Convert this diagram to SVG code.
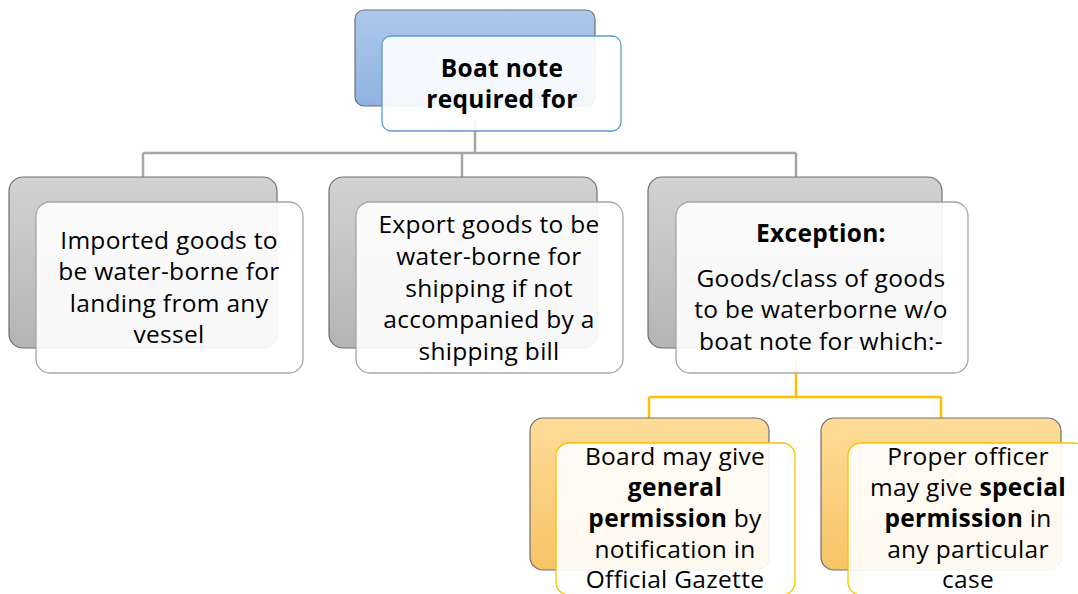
<svg xmlns="http://www.w3.org/2000/svg" width="1078" height="594" viewBox="0 0 1078 594">
<defs>
<linearGradient id="gBlue" x1="0" y1="0" x2="0" y2="1"><stop offset="0" stop-color="#adc8ea"/><stop offset="1" stop-color="#8fb3e0"/></linearGradient>
<linearGradient id="gGray" x1="0" y1="0" x2="0" y2="1"><stop offset="0" stop-color="#d2d2d2"/><stop offset="1" stop-color="#b4b4b4"/></linearGradient>
<linearGradient id="gOr" x1="0" y1="0" x2="0" y2="1"><stop offset="0" stop-color="#fedc98"/><stop offset="1" stop-color="#f7c366"/></linearGradient>
</defs>
<style>
.back{stroke:#6f6f6f;stroke-width:1.2}
.front{fill:#ffffff;fill-opacity:0.9;stroke-width:1.3}
.fg{stroke:#a6a6a6}
.fb{stroke:#5b9bd5}
.fo{stroke:#ffc000}
text{font-family:"Open Sans","Noto Sans","Liberation Sans",sans-serif;font-size:24.5px;letter-spacing:0.3px;fill:#000;text-anchor:middle}
.b{font-weight:bold}
.cg{fill:none;stroke:#a6a6a6;stroke-width:2.5}
.co{fill:none;stroke:#ffc000;stroke-width:2.5}
</style>
<g id="connectors">
<path class="cg" d="M475,120 V153 M143,153 H796 M143,153 V178 M462,153 V178 M796,153 V178"/>
<path class="co" d="M796,360 V397 M649,397 H941 M649,397 V418 M941,397 V418"/>
</g>
<g id="root">
<rect class="back" x="355" y="10" width="240" height="96" rx="9" fill="url(#gBlue)"/>
<rect class="front fb" x="382" y="36" width="239" height="95" rx="9"/>
<text class="b" x="502" y="77">Boat note</text>
<text class="b" x="502" y="108">required for</text>
</g>
<g id="imported">
<rect class="back" x="9" y="177" width="268" height="171" rx="14" fill="url(#gGray)"/>
<rect class="front fg" x="36" y="202" width="267" height="171" rx="14"/>
<text x="169" y="249">Imported goods to</text>
<text x="169" y="280">be water-borne for</text>
<text x="169" y="312">landing from any</text>
<text x="169" y="343">vessel</text>
</g>
<g id="export">
<rect class="back" x="329" y="177" width="268" height="171" rx="14" fill="url(#gGray)"/>
<rect class="front fg" x="356" y="202" width="267" height="171" rx="14"/>
<text x="489" y="233">Export goods to be</text>
<text x="489" y="265">water-borne for</text>
<text x="489" y="297">shipping if not</text>
<text x="489" y="328">accompanied by a</text>
<text x="489" y="360">shipping bill</text>
</g>
<g id="exception">
<rect class="back" x="648" y="177" width="294" height="171" rx="14" fill="url(#gGray)"/>
<rect class="front fg" x="676" y="202" width="292" height="171" rx="14"/>
<text class="b" x="821" y="242">Exception:</text>
<text x="821" y="287">Goods/class of goods</text>
<text x="821" y="318">to be waterborne w/o</text>
<text x="821" y="350">boat note for which:-</text>
</g>
<g id="general">
<rect class="back" x="530" y="418" width="239" height="152" rx="13" fill="url(#gOr)"/>
<rect class="front fo" x="556" y="443" width="239" height="152" rx="13"/>
<text x="675" y="465">Board may give</text>
<text class="b" x="675" y="496">general</text>
<text x="675" y="527"><tspan class="b">permission</tspan> by</text>
<text x="675" y="558">notification in</text>
<text x="675" y="588">Official Gazette</text>
</g>
<g id="special">
<rect class="back" x="821" y="418" width="240" height="152" rx="13" fill="url(#gOr)"/>
<rect class="front fo" x="848" y="443" width="239" height="152" rx="13"/>
<text x="968" y="465">Proper officer</text>
<text x="968" y="496">may give <tspan class="b">special</tspan></text>
<text x="968" y="527"><tspan class="b">permission</tspan> in</text>
<text x="968" y="558">any particular</text>
<text x="968" y="588">case</text>
</g>
</svg>
